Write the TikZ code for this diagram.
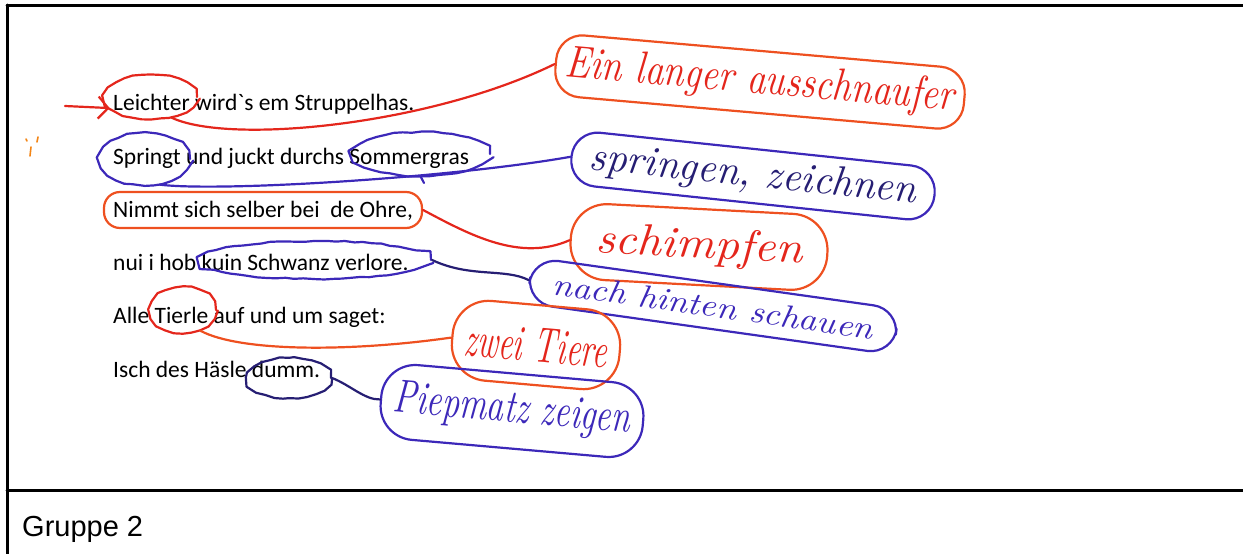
\documentclass[tikz,border=0pt]{standalone}
\usepackage{fontspec}
\usepackage{graphicx}
\setmainfont{Carlito}[Ligatures=TeXOff]
\newfontfamily\capfont{Liberation Sans}
\usetikzlibrary{arrows.meta,positioning,shapes.geometric,decorations.pathmorphing}

\definecolor{penred}{RGB}{228,38,28}
\definecolor{penorange}{RGB}{238,80,32}
\definecolor{penblue}{RGB}{60,40,185}
\definecolor{inkblue}{RGB}{38,30,115}

\newcommand\hand{\fontfamily{lmr}\fontshape{it}\selectfont}
\newcommand\scrawl[3]{\resizebox{#1}{#2}{\hand #3}}

\tikzset{
  tableline/.style={line width=3pt},
  tablecap/.style={anchor=base west, inner sep=0pt, font=\capfont\fontsize{29}{34}\selectfont},
  verse/.style={anchor=base west, inner sep=0pt, font=\fontsize{23.5}{28}\selectfont},
  sketchy/.style={decorate, decoration={random steps, segment length=9pt, amplitude=0.8pt}},
  ring/.style={ellipse, draw, line width=2.2pt, inner sep=0pt, sketchy},
  note/.style={rectangle, draw, line width=2.2pt, inner sep=4pt, rounded corners=26pt},
  link/.style={line width=2.2pt},
}

\begin{document}
\begin{tikzpicture}[x=1pt, y=-1pt, line cap=round, line join=round]
\pgfmathsetseed{3}
\useasboundingbox (0,0) rectangle (1243,554);

% table cell
\draw[tableline] (7,5) -- (1243,5);
\draw[tableline] (7,5) -- (7,554);
\draw[tableline] (7,490) -- (1243,490);
\node[tablecap] (gruppe) at (22,536) {Gruppe 2};

% poem
\node[verse] (v1) at (113,110) {Leichter wird`s em Struppelhas.};
\node[verse] (v2) at (113,164) {Springt und juckt durchs Sommergras};
\node[verse] (v3) at (113,217) {Nimmt sich selber bei~ de Ohre,};
\node[verse] (v4) at (113,270) {nui i hob kuin Schwanz verlore.};
\node[verse] (v5) at (113,323) {Alle Tierle auf und um saget:};
\node[verse] (v6) at (113,377) {Isch des Häsle dumm.};

% circled words
\node[ring, penred, minimum width=92pt, minimum height=44pt] (leichter) at (151,97) {};
\node[ring, penblue, minimum width=90pt, minimum height=52pt] (springt) at (145,159) {};
\node[ring, penblue, minimum width=138pt, minimum height=44pt] (sommer) at (421,154) {};
\node[note, penorange, rounded corners=16pt, minimum width=318pt, minimum height=36pt] (nimmt) at (263,210) {};
\node[ring, penblue, minimum width=232pt, minimum height=38pt] (kuin) at (315,260) {};
\node[ring, penred, minimum width=66pt, minimum height=46pt] (tierle) at (183,310) {};
\node[ring, inkblue, minimum width=84pt, minimum height=40pt] (dumm) at (289,378) {};

% notes
\node[note, draw=penorange, text=penred, minimum width=410pt, minimum height=62pt, rotate=-5] (ausschnaufer) at (760,82) {\scrawl{390pt}{32pt}{Ein langer ausschnaufer}};
\node[note, draw=penblue, text=inkblue, minimum width=365pt, minimum height=54pt, rotate=-6] (springen) at (753,176) {\scrawl{328pt}{29pt}{springen, zeichnen}};
\node[note, draw=penorange, text=penred, rounded corners=36pt, minimum width=257pt, minimum height=76pt, rotate=-3] (schimpfen) at (699,247) {\scrawl{207pt}{31pt}{schimpfen}};
\node[note, draw=penblue, text=penblue, minimum width=370pt, minimum height=46pt, rotate=-8] (schauen) at (713,306) {\scrawl{324pt}{22pt}{nach hinten schauen}};
\node[note, draw=penorange, text=penred, rounded corners=36pt, minimum width=168pt, minimum height=80pt, rotate=-5] (zweitiere) at (536,345) {\scrawl{143pt}{34pt}{zwei Tiere}};
\node[note, draw=penblue, text=penblue, rounded corners=34pt, minimum width=263pt, minimum height=75pt, rotate=-5] (piepmatz) at (512,411) {\scrawl{237pt}{32pt}{Piepmatz zeigen}};

% lines from the words to the notes
\coordinate (arrowtail) at (65,106);
\coordinate (tick) at (424,183);
\draw[link, penred, -{Straight Barb[length=10pt,width=22pt]}] (arrowtail) -- (leichter.195);
\draw[link, penred] (leichter.-45) .. controls (230,145) and (430,125) .. (ausschnaufer.west);
\draw[link, penblue] (springt.-60) .. controls (220,192) and (450,178) .. (springen.west);
\draw[link, penblue] (sommer.south) -- (tick);
\draw[link, penred] (nimmt.east) .. controls (470,235) and (520,262) .. (schimpfen.west);
\draw[link, inkblue] (kuin.east) .. controls (470,278) and (505,268) .. (schauen.west);
\draw[link, penorange] (tierle.-50) .. controls (240,352) and (350,352) .. (zweitiere.west);
\draw[link, inkblue] (dumm.east) .. controls (350,385) and (365,400) .. (piepmatz.west);

% stray pen marks
\draw[penorange!70!yellow, line width=1.6pt] (26,139) -- (27,141) (38,137) -- (37,142) (31,147) -- (30,156);
\end{tikzpicture}
\end{document}
